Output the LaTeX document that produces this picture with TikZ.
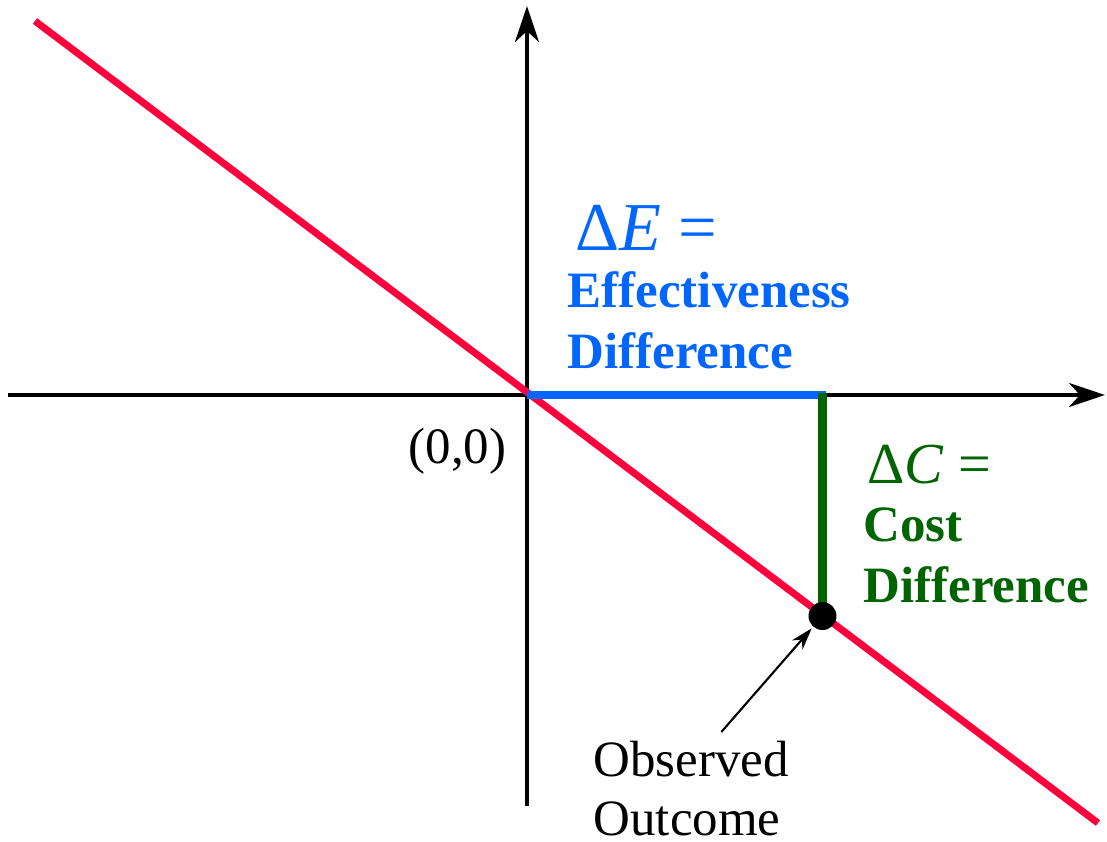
\documentclass[tikz,border=0pt]{standalone}
\usepackage{fontspec}
\setmainfont{Liberation Serif}
\usepackage{xcolor}
\usepackage{tikz}
\usetikzlibrary{arrows.meta}
\definecolor{linered}{RGB}{255,0,60}
\definecolor{effblue}{RGB}{0,102,255}
\definecolor{costgreen}{RGB}{0,100,0}

\begin{document}
\begin{tikzpicture}[
  every node/.style={inner sep=0pt},
  axis/.style={line width=1.2pt, -{Stealth[length=3.6mm, width=2.4mm, inset=1.1mm]}},
  lbl/.style={anchor=base west, font=\fontsize{14.5}{17}\selectfont},
  bold/.style={anchor=base west, font=\fontsize{14.5}{17}\selectfont\bfseries},
  ptr/.style={-{Stealth[length=2.2mm, width=1.4mm]}, line width=0.6pt, shorten >=0.5pt}
]
\useasboundingbox (-5.27,-4.47) rectangle (5.80,3.95);
% axes
\coordinate (O) at (0,0);
\coordinate (xl) at (-5.19,0);
\coordinate (xr) at (5.78,0);
\coordinate (yb) at (0,-4.11);
\coordinate (yt) at (0,3.89);
\draw[axis] (xl) -- (xr);
\draw[axis] (yb) -- (yt);
% line through the origin
\coordinate (rl) at (-4.92,3.74);
\coordinate (rr) at (5.71,-4.28);
\draw[linered, line width=2pt] (rl) -- (rr);
% differences
\coordinate (dEend) at (2.99,0);
\coordinate (dCtop) at (2.955,0.02);
\coordinate (obsPt) at (2.955,-2.21);
\draw[effblue, line width=2.4pt] (O) -- (dEend);
\draw[costgreen, line width=2.3pt] (dCtop) -- (obsPt);
\node[circle, fill=black, minimum size=2.8mm] (outcome) at (obsPt) {};
% labels
\node[anchor=base west, text=effblue, font=\fontsize{19.5}{22}\selectfont] (dElbl) at (0.48,1.45) {Δ\textit{E} =};
\node[bold, text=effblue] (effA) at (0.40,0.88) {Effectiveness};
\node[bold, text=effblue] (effB) at (0.40,0.27) {Difference};
\node[anchor=base west, text=costgreen, font=\fontsize{16.5}{20}\selectfont] (dClbl) at (3.40,-0.88) {Δ\textit{C} =};
\node[bold, text=costgreen] (costA) at (3.36,-1.46) {Cost};
\node[bold, text=costgreen] (costB) at (3.36,-2.07) {Difference};
\node[lbl, anchor=base east] (orig) at (-0.20,-0.68) {(0,0)};
\node[anchor=north west, align=left, font=\fontsize{14.5}{16.8}\selectfont] (obsLbl) at (0.66,-3.45) {Observed\\Outcome};
\draw[ptr] ([xshift=3mm, yshift=0.8mm]obsLbl.north) -- (outcome);
\end{tikzpicture}
\end{document}
